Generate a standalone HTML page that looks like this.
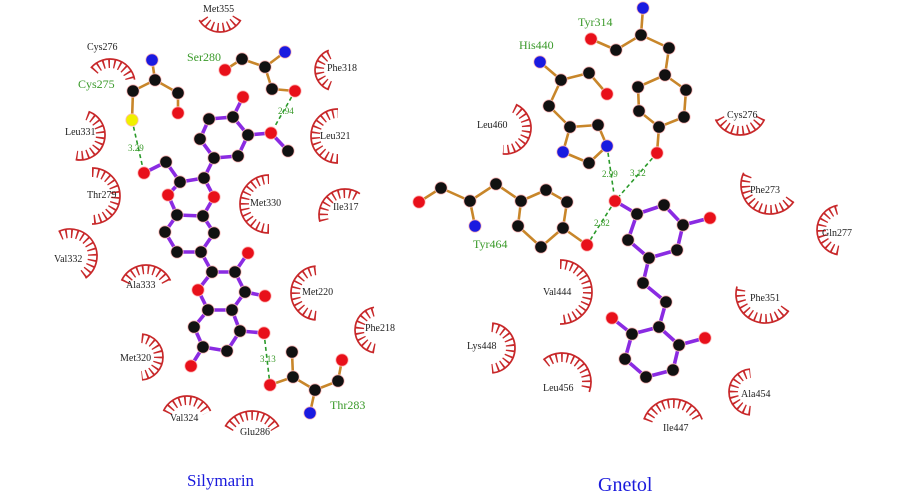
<!DOCTYPE html>
<html><head><meta charset="utf-8"><style>
html,body{margin:0;padding:0;background:#fff;width:900px;height:500px;overflow:hidden}
svg{display:block}
.l{font:10px "Liberation Serif",serif;fill:#222}
.g{font:12px "Liberation Serif",serif;fill:#3a9a2a}
.d{font:9px "Liberation Serif",serif;fill:#3a9a2a}
.t{font:17px "Liberation Serif",serif;fill:#1a1adc}
</style></head><body>
<svg id="s" width="900" height="500" viewBox="0 0 900 500" xmlns="http://www.w3.org/2000/svg">
<g id="arcs"></g><g id="bonds"></g><g id="hb"></g><g id="atoms"></g>
<text class="l" x="203" y="12">Met355</text>
<text class="l" x="87" y="50">Cys276</text>
<text class="l" x="327" y="71">Phe318</text>
<text class="l" x="65" y="135">Leu331</text>
<text class="l" x="320" y="139">Leu321</text>
<text class="l" x="87" y="198">Thr279</text>
<text class="l" x="250" y="206">Met330</text>
<text class="l" x="333" y="210">Ile317</text>
<text class="l" x="54" y="262">Val332</text>
<text class="l" x="126" y="288">Ala333</text>
<text class="l" x="302" y="295">Met220</text>
<text class="l" x="365" y="331">Phe218</text>
<text class="l" x="120" y="361">Met320</text>
<text class="l" x="170" y="421">Val324</text>
<text class="l" x="240" y="435">Glu286</text>
<text class="g" x="78" y="88">Cys275</text>
<text class="g" x="187" y="61">Ser280</text>
<text class="g" x="330" y="409">Thr283</text>
<text class="d" x="128" y="151">3.29</text>
<text class="d" x="278" y="114">2.94</text>
<text class="d" x="260" y="362">3.13</text>
<text class="t" x="187" y="486">Silymarin</text>

<text class="l" x="477" y="128">Leu460</text>
<text class="l" x="727" y="118">Cys276</text>
<text class="l" x="750" y="193">Phe273</text>
<text class="l" x="822" y="236">Gln277</text>
<text class="l" x="543" y="295">Val444</text>
<text class="l" x="750" y="301">Phe351</text>
<text class="l" x="467" y="349">Lys448</text>
<text class="l" x="543" y="391">Leu456</text>
<text class="l" x="741" y="397">Ala454</text>
<text class="l" x="663" y="431">Ile447</text>
<text class="g" x="578" y="26">Tyr314</text>
<text class="g" x="519" y="49">His440</text>
<text class="g" x="473" y="248">Tyr464</text>
<text class="d" x="602" y="177">2.99</text>
<text class="d" x="630" y="176">3.12</text>
<text class="d" x="594" y="226">2.82</text>
<text class="t" x="598" y="491" style="font-size:20px">Gnetol</text>
</svg>
<script>
var NS="http://www.w3.org/2000/svg";
function el(p,t,a){var e=document.createElementNS(NS,t);for(var k in a)e.setAttribute(k,a[k]);document.getElementById(p).appendChild(e);}
function arc(cx,cy,r,face,span){span=span||160;var a1=(face-span/2)*Math.PI/180,a2=(face+span/2)*Math.PI/180;
 function pth(rr){return "M"+(cx+rr*Math.cos(a1))+","+(cy+rr*Math.sin(a1))+" A"+rr+","+rr+" 0 0 1 "+(cx+rr*Math.cos(a2))+","+(cy+rr*Math.sin(a2));}
 el("arcs","path",{d:pth(r),fill:"none",stroke:"#c8282a","stroke-width":1.7});
 el("arcs","path",{d:pth(r-4.5),fill:"none",stroke:"#c8282a","stroke-width":9,"stroke-dasharray":"1.6 3.8"});}
var A=[[220,8,24,90,120],[110,84,25,-75,130],[336,70,21,180,140],[80,135,25,15,170],[338,136,27,180,180],[92,196,28,0,180],[269,204,29,180,180],[345,215,26,-125,140],[70,256,27,-30,170],[146,292,27,-90,130],[318,293,27,180,170],[378,330,23,180,160],[140,357,23,0,170],[187,422,26,-90,130],[252,442,31,-90,120],
[505,128,26,15,160],[740,108,27,90,130],[770,185,29,120,170],[842,230,25,180,160],[560,292,32,0,180],[765,294,29,115,160],[490,348,25,0,170],[562,382,29,-55,150],[752,392,23,180,170],[673,430,31,-90,140]];
A.forEach(function(a){arc.apply(null,a)});
var C={k:"#111",r:"#e8101a",b:"#1a1ae0",y:"#f0f000"};
function bonds(list,col,w){list.forEach(function(b){el("bonds","line",{x1:b[0][0],y1:b[0][1],x2:b[1][0],y2:b[1][1],stroke:col,"stroke-width":w,"stroke-linecap":"round"});});}
function hb(a,b){el("hb","line",{x1:a[0],y1:a[1],x2:b[0],y2:b[1],stroke:"#2a9a2a","stroke-width":1.6,"stroke-dasharray":"4 3"});}
function atom(p,c){el("atoms","circle",{cx:p[0],cy:p[1],r:6.2,fill:C[c],stroke:"#fbb","stroke-width":0.8});}
var P={N1:[152,60],CA1:[155,80],CB1:[133,91],C1:[178,93],O1:[178,113],SG:[132,120],
O2:[225,70],C2:[242,59],CA2:[265,67],N2:[285,52],CB2:[272,89],OG:[295,91],
OAI:[243,97],a:[209,119],b:[233,117],c:[248,135],OAH:[271,133],CH:[288,151],d:[238,156],e:[214,158],f:[200,139],
CAR:[204,178],CAL:[180,182],OAE:[168,195],OAA:[214,197],CAT:[166,162],OAT:[144,173],
g1:[177,215],g2:[203,216],g3:[165,232],g4:[214,233],g5:[177,252],g6:[201,252],h1:[212,272],h2:[235,272],OAD:[248,253],h3:[245,292],OAF:[265,296],OAC:[198,290],
i1:[208,310],i2:[232,310],i3:[194,327],i4:[240,331],OAG:[264,333],i5:[203,347],i6:[227,351],OAi:[191,366],
OG1:[270,385],TCB:[293,377],CG2:[292,352],TCA:[315,390],TN:[310,413],TC:[338,381],TO:[342,360]};
function B(s){return s.split(" ").map(function(x){var q=x.split("-");return [P[q[0]],P[q[1]]];});}
bonds(B("N1-CA1 CA1-CB1 CA1-C1 C1-O1 CB1-SG O2-C2 C2-CA2 CA2-N2 CA2-CB2 CB2-OG OG1-TCB TCB-CG2 TCB-TCA TCA-TN TCA-TC TC-TO"),"#c8862a",2.6);
bonds(B("OAI-b a-b b-c c-d d-e e-f f-a c-OAH OAH-CH e-CAR CAR-CAL CAL-CAT CAT-OAT CAL-OAE CAR-OAA OAE-g1 OAA-g2 g1-g2 g1-g3 g2-g4 g3-g5 g4-g6 g5-g6 g6-h1 h1-h2 h2-OAD h2-h3 h3-OAF h1-OAC h3-i2 OAC-i1 i1-i2 i1-i3 i2-i4 i4-OAG i3-i5 i4-i6 i5-i6 i5-OAi"),"#8a2be2",3.6);
hb(P.SG,P.OAT);hb(P.OG,P.OAH);hb(P.OAG,P.OG1);
var red="O1 O2 OG OAI OAH OAE OAA OAT OAD OAF OAC OAG OAi OG1 TO".split(" "),blue="N1 N2 TN".split(" ");
for(var k in P){atom(P[k],red.indexOf(k)>=0?"r":blue.indexOf(k)>=0?"b":k=="SG"?"y":"k");}
P={YN:[643,8],YCA:[641,35],YO:[591,39],YC:[616,50],YCB:[669,48],YCG:[665,75],YD1:[638,87],YD2:[686,90],YE1:[639,111],YE2:[684,117],YCZ:[659,127],YOH:[657,153],
HN:[540,62],HCA:[561,80],HC:[589,73],HO:[607,94],HCB:[549,106],HCG:[570,127],HD2:[598,125],HNE:[607,146],HE1:[589,163],HND:[563,152],
TO:[419,202],TC:[441,188],TCA:[470,201],TN:[475,226],TCB:[496,184],TCG:[521,201],TD2:[546,190],TE2:[567,202],TCZ:[563,228],TOH:[587,245],TE1:[541,247],TD1:[518,226],
OAC:[615,201],CAM:[637,214],CAQ:[664,205],CAN:[683,225],OAD:[710,218],CAK:[677,250],CAF:[649,258],CAL:[628,240],
CAH:[643,283],CAG:[666,302],CAE:[659,327],CAI:[632,334],OAA:[612,318],CAJ:[679,345],OAB:[705,338],r1:[625,359],r2:[646,377],r3:[673,370]};
bonds(B("YN-YCA YCA-YC YC-YO YCA-YCB YCB-YCG YCG-YD1 YCG-YD2 YD1-YE1 YD2-YE2 YE1-YCZ YE2-YCZ YCZ-YOH HN-HCA HCA-HC HC-HO HCA-HCB HCB-HCG HCG-HD2 HD2-HNE HNE-HE1 HE1-HND HND-HCG TO-TC TC-TCA TCA-TN TCA-TCB TCB-TCG TCG-TD2 TD2-TE2 TE2-TCZ TCZ-TOH TCZ-TE1 TE1-TD1 TD1-TCG"),"#c8862a",2.6);
bonds(B("OAC-CAM CAM-CAQ CAQ-CAN CAN-OAD CAN-CAK CAK-CAF CAF-CAL CAL-CAM CAF-CAH CAH-CAG CAG-CAE CAE-CAI CAI-OAA CAE-CAJ CAJ-OAB CAI-r1 r1-r2 r2-r3 r3-CAJ"),"#8a2be2",3.6);
hb(P.HNE,P.OAC);hb(P.YOH,P.OAC);hb(P.OAC,P.TOH);
red="YO YOH HO TO TOH OAC OAD OAA OAB".split(" ");blue="YN HN HNE HND TN".split(" ");
for(var k in P){atom(P[k],red.indexOf(k)>=0?"r":blue.indexOf(k)>=0?"b":"k");}
</script>
</body></html>
